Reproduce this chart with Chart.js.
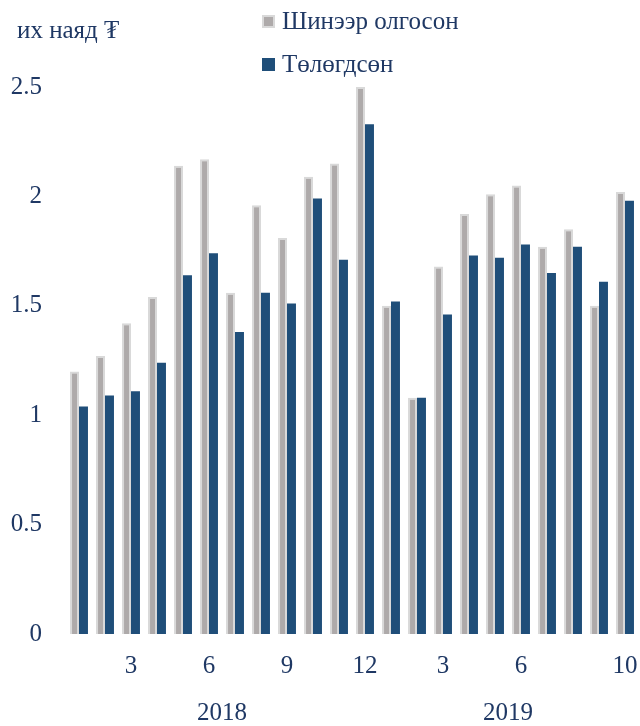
<!DOCTYPE html>
<html>
<head>
<meta charset="utf-8">
<script src="https://cdn.jsdelivr.net/npm/chart.js@4"></script>
<style>
  body { margin: 0; background: #fff; }
</style>
</head>
<body>
<canvas id="grafico" width="640" height="726"></canvas>
<script>
const months = ['1','2','3','4','5','6','7','8','9','10','11','12','1','2','3','4','5','6','7','8','9','10'];
const years = ['2018','2018','2018','2018','2018','2018','2018','2018','2018','2018','2018','2018',
               '2019','2019','2019','2019','2019','2019','2019','2019','2019','2019'];
const shownTicks = [2, 5, 8, 11, 14, 17, 21]; // which month labels are printed
const shineer = [1.20, 1.27, 1.42, 1.54, 2.14, 2.17, 1.56, 1.96, 1.81, 2.09, 2.15, 2.50,
                 1.50, 1.08, 1.68, 1.92, 2.01, 2.05, 1.77, 1.85, 1.50, 2.02];
const tolugdsun = [1.04, 1.09, 1.11, 1.24, 1.64, 1.74, 1.38, 1.56, 1.51, 1.99, 1.71, 2.33,
                   1.52, 1.08, 1.46, 1.73, 1.72, 1.78, 1.65, 1.77, 1.61, 1.98];
const yTicks = [0, 0.5, 1, 1.5, 2, 2.5];

const textColor = '#1f3864';
const fontFam = '"Liberation Serif", "DejaVu Serif", serif';

// legend stacked vertically + unit label + year labels
const extraText = {
  id: 'extraText',
  afterDraw(chart) {
    const ctx = chart.ctx;
    ctx.save();
    ctx.fillStyle = textColor;
    ctx.textBaseline = 'middle';
    ctx.font = '25px ' + fontFam;
    ctx.textAlign = 'left';
    ctx.fillText('их наяд ₮', 17, 31);

    chart.data.datasets.forEach((ds, i) => {
      const y = 22 + i * 43;
      ctx.fillStyle = ds.borderColor;
      ctx.fillRect(262, y - 7, 13, 13);
      ctx.fillStyle = ds.backgroundColor;
      ctx.fillRect(264, y - 5, 9, 9);
      ctx.fillStyle = textColor;
      ctx.fillText(ds.label, 282, y);
    });

    const x = chart.scales.x;
    ctx.textAlign = 'center';
    [...new Set(years)].forEach(yr => {
      const first = years.indexOf(yr), last = years.lastIndexOf(yr);
      const cx = (x.getPixelForValue(first) + x.getPixelForValue(last)) / 2;
      ctx.fillText(yr, cx, 713);
    });
    ctx.restore();
  }
};

new Chart(document.getElementById('grafico'), {
  type: 'bar',
  data: {
    labels: months,
    datasets: [{
      label: 'Шинээр олгосон',
      data: shineer,
      backgroundColor: '#aeaaaa',
      borderColor: '#d9d9d9',
      borderWidth: 2,
      borderSkipped: 'bottom'
    }, {
      label: 'Төлөгдсөн',
      data: tolugdsun,
      backgroundColor: '#1f4e79',
      borderColor: '#1f4e79',
      borderWidth: 0
    }]
  },
  options: {
    responsive: false,
    animation: false,
    devicePixelRatio: 1,
    layout: { padding: { top: 87, right: 2, left: 0, bottom: 0 } },
    datasets: { bar: { barPercentage: 1, categoryPercentage: 0.69 } },
    plugins: {
      legend: { display: false },
      tooltip: { enabled: false }
    },
    scales: {
      x: {
        grid: { display: false, drawTicks: false },
        border: { display: false },
        afterFit: s => { s.height = 92; s.paddingLeft = 0; s.paddingRight = 0; },
        ticks: {
          autoSkip: false,
          maxRotation: 0,
          padding: 17,
          color: textColor,
          font: { family: fontFam, size: 25 },
          callback: (v, i) => shownTicks.includes(i) ? months[i] : ''
        }
      },
      y: {
        min: 0,
        max: 2.5,
        afterFit: s => { s.width = 66; s.paddingTop = 0; s.paddingBottom = 0; },
        afterBuildTicks: s => { s.ticks = yTicks.map(v => ({ value: v })); },
        grid: { display: false, drawTicks: false },
        border: { display: false },
        ticks: {
          padding: 24,
          color: textColor,
          font: { family: fontFam, size: 25 },
          callback: v => String(v)
        }
      }
    }
  },
  plugins: [extraText]
});
</script>
</body>
</html>
